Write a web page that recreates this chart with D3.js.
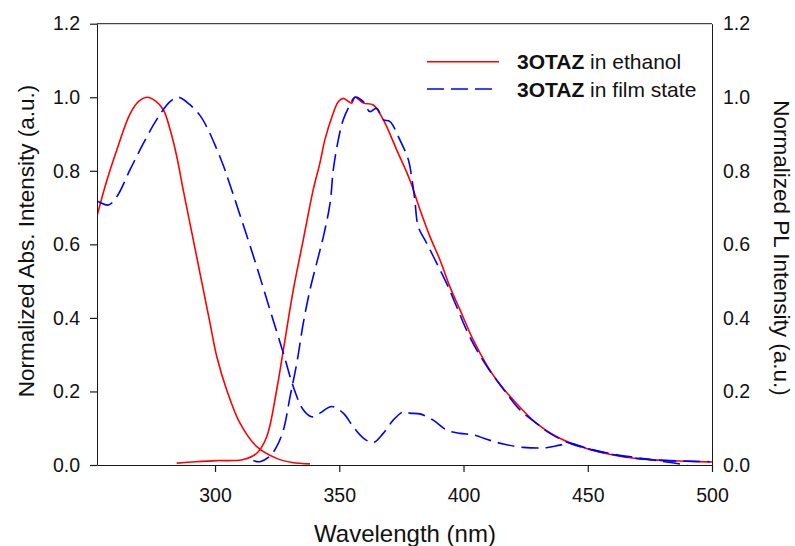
<!DOCTYPE html>
<html>
<head>
<meta charset="utf-8">
<script src="https://cdn.jsdelivr.net/npm/d3@7"></script>
<style>
  html, body { margin: 0; padding: 0; background: #fff; }
  svg { display: block; font-family: "Liberation Sans", Arial, sans-serif; }
</style>
</head>
<body>
<svg id="chart" width="795" height="546"></svg>
<script>
// ---------------- data ----------------
const xTicks = [300, 350, 400, 450, 500];
const yTicks = [0.0, 0.2, 0.4, 0.6, 0.8, 1.0, 1.2];
const xDomain = [252.5, 500];
const yDomain = [0, 1.2];

const seriesNames = ["3OTAZ in ethanol", "3OTAZ in film state"];

// Absorption, ethanol (red, solid)
const absEthanolW = [252.5, 256.4, 260.5, 265.8, 269.5, 272.8, 276, 279.2, 282, 284.6, 287.2, 289.9, 292.6, 295.3, 298.0, 300.7, 304.7, 310.1, 316.8, 324.8, 331, 338.2];
const absEthanolV = [0.677, 0.772, 0.857, 0.955, 0.99, 1.0, 0.99, 0.966, 0.91, 0.839, 0.748, 0.657, 0.567, 0.476, 0.385, 0.295, 0.204, 0.113, 0.050, 0.018, 0.007, 0.003];

// PL, ethanol (red, solid)
const plEthanolW = [284.6, 292, 300.7, 306, 311.4, 316.8, 320.8, 324.8, 327.5, 331.5, 335.5, 339.5, 342.2, 344.2, 347.3, 349.6, 351.6, 355.0, 356.3, 359.7, 363.7, 367.7, 373.1, 378.4, 382.5, 386.5, 390.5, 394.5, 398.6, 403.9, 409.5, 413.3, 420, 429.4, 437.5, 449.5, 462.9, 476.3, 490, 500];
const plEthanolV = [0.005, 0.009, 0.012, 0.012, 0.015, 0.032, 0.077, 0.204, 0.313, 0.476, 0.612, 0.748, 0.821, 0.884, 0.952, 0.988, 0.997, 0.984, 1.0, 0.984, 0.979, 0.939, 0.857, 0.775, 0.694, 0.621, 0.558, 0.485, 0.422, 0.340, 0.270, 0.231, 0.177, 0.113, 0.077, 0.045, 0.024, 0.014, 0.010, 0.008];

// Absorption, film (blue, dashed)
const absFilmW = [252.5, 253.7, 257.1, 260.5, 265.8, 271.2, 276.5, 281.9, 285.2, 290, 294, 297, 300.5, 303.3, 306, 311.4, 316.8, 322.1, 327.5, 331.5, 335.5, 338.9, 342.2, 347, 351.6, 355.6, 359.7, 363.7, 367.7, 371.7, 375.8, 378.4, 382.5, 387.8, 393.2, 398.6, 404, 409.3, 416, 424, 433.4, 438.8, 442.8, 450, 460, 470, 480, 490];
const absFilmV = [0.718, 0.714, 0.707, 0.73, 0.803, 0.875, 0.939, 0.988, 1.0, 0.979, 0.95, 0.915, 0.862, 0.815, 0.762, 0.652, 0.539, 0.422, 0.304, 0.213, 0.150, 0.131, 0.141, 0.159, 0.141, 0.104, 0.073, 0.061, 0.086, 0.122, 0.145, 0.141, 0.139, 0.122, 0.095, 0.086, 0.082, 0.070, 0.057, 0.048, 0.047, 0.054, 0.059, 0.045, 0.030, 0.020, 0.010, 0.0];

// PL, film (blue, dashed)
const plFilmW = [315.4, 318.1, 322.1, 324.8, 327.5, 330.2, 332.9, 335.5, 338.2, 340.9, 343.6, 346.3, 347.6, 349.6, 351.6, 354.3, 356.3, 359.7, 362.3, 365, 367.7, 370.4, 374.4, 377.8, 379.1, 380.4, 381.8, 385.2, 389.2, 393.2, 397.2, 401.2, 405.3, 409.9, 413.3, 417.3, 422.7, 429.4, 434.8, 442.8, 449.5, 458.9, 469.6, 483, 499.1];
const plFilmV = [0.012, 0.009, 0.024, 0.05, 0.095, 0.186, 0.277, 0.385, 0.476, 0.549, 0.621, 0.712, 0.803, 0.884, 0.939, 0.979, 1.0, 0.988, 0.961, 0.97, 0.939, 0.934, 0.884, 0.83, 0.784, 0.721, 0.648, 0.603, 0.549, 0.494, 0.431, 0.367, 0.313, 0.263, 0.231, 0.195, 0.15, 0.113, 0.086, 0.059, 0.045, 0.03, 0.018, 0.012, 0.009];

// ---------------- chart ----------------
(function () {
const svg = d3.select("#chart");
const mLeft = 97, mRight = 712, mTop = 23.7, mBottom = 465;

const x = d3.scaleLinear().domain(xDomain).range([mLeft, mRight]);
const y = d3.scaleLinear().domain(yDomain).range([mBottom, mTop]);

const zip = (w, v) => w.map((d, i) => [d, v[i]]);
const line = d3.line().x(d => x(d[0])).y(d => y(d[1])).curve(d3.curveCatmullRom.alpha(0.5));

const RED = "#ff0000", BLUE = "#0000ff", AX = "#1a1a1a";
const DASH = "17,7";
const FF = "Liberation Sans, Arial, sans-serif";

const series = [
  { data: zip(absEthanolW, absEthanolV), color: RED, dash: null },
  { data: zip(plEthanolW, plEthanolV), color: RED, dash: null },
  { data: zip(absFilmW, absFilmV), color: BLUE, dash: DASH },
  { data: zip(plFilmW, plFilmV), color: BLUE, dash: DASH }
];

svg.append("clipPath").attr("id", "plotclip")
  .append("rect").attr("x", mLeft).attr("y", mTop - 2).attr("width", mRight - mLeft).attr("height", mBottom - mTop + 4);

const plot = svg.append("g").attr("clip-path", "url(#plotclip)");
series.forEach(s => {
  plot.append("path")
    .attr("d", line(s.data))
    .attr("fill", "none")
    .attr("stroke", s.color)
    .attr("stroke-width", 1.6)
    .attr("stroke-dasharray", s.dash);
});

// frame line (top)
svg.append("line").attr("x1", mLeft).attr("x2", mRight).attr("y1", mTop).attr("y2", mTop)
  .attr("stroke", AX).attr("stroke-width", 1);

// X axis
const xAxis = svg.append("g").attr("transform", `translate(0,${mBottom})`)
  .call(d3.axisBottom(x).tickValues(xTicks).tickSize(7).tickPadding(16).tickSizeOuter(0));
xAxis.selectAll("text").attr("font-size", 19.5).attr("fill", "#111").attr("font-family", FF);

// Left Y axis
const yAxisL = svg.append("g").attr("transform", `translate(${mLeft},0)`)
  .call(d3.axisLeft(y).tickValues(yTicks).tickFormat(d3.format(".1f")).tickSize(7).tickPadding(10).tickSizeOuter(0));
yAxisL.selectAll("text").attr("font-size", 19.5).attr("fill", "#111").attr("font-family", FF);

// Right Y axis (labels, no tick marks)
const yAxisR = svg.append("g").attr("transform", `translate(${mRight},0)`)
  .call(d3.axisRight(y).tickValues(yTicks).tickFormat(d3.format(".1f")).tickSize(0).tickPadding(11).tickSizeOuter(0));
yAxisR.selectAll("text").attr("font-size", 19.5).attr("fill", "#111").attr("font-family", FF);

[xAxis, yAxisL, yAxisR].forEach(g => {
  g.select(".domain").attr("stroke", AX).attr("stroke-width", 1);
  g.selectAll(".tick line").attr("stroke", AX).attr("stroke-width", 1.2);
});

// Axis titles
svg.append("text").attr("x", 405).attr("y", 542)
  .attr("text-anchor", "middle").attr("font-size", 24).attr("fill", "#111")
  .text("Wavelength (nm)");

svg.append("text").attr("transform", `translate(33.5,241) rotate(-90)`)
  .attr("text-anchor", "middle").attr("font-size", 22.5).attr("fill", "#111")
  .text("Normalized Abs. Intensity (a.u.)");

svg.append("text").attr("transform", `translate(774,248) rotate(90)`)
  .attr("text-anchor", "middle").attr("font-size", 22.5).attr("fill", "#111")
  .text("Normalized PL Intensity (a.u.)");

// Legend
const legend = [
  { label: seriesNames[0], color: RED, dash: null, y: 61.7 },
  { label: seriesNames[1], color: BLUE, dash: DASH, y: 89 }
];
legend.forEach(l => {
  svg.append("line").attr("x1", 427).attr("x2", 499).attr("y1", l.y).attr("y2", l.y)
    .attr("stroke", l.color).attr("stroke-width", 1.6).attr("stroke-dasharray", l.dash);
  const parts = l.label.split(" ");
  const t = svg.append("text").attr("x", 517).attr("y", l.y + 7.6)
    .attr("font-size", 21).attr("fill", "#111");
  t.append("tspan").attr("font-weight", "bold").text(parts[0]);
  t.append("tspan").text(" " + parts.slice(1).join(" "));
});
})();
</script>
</body>
</html>
